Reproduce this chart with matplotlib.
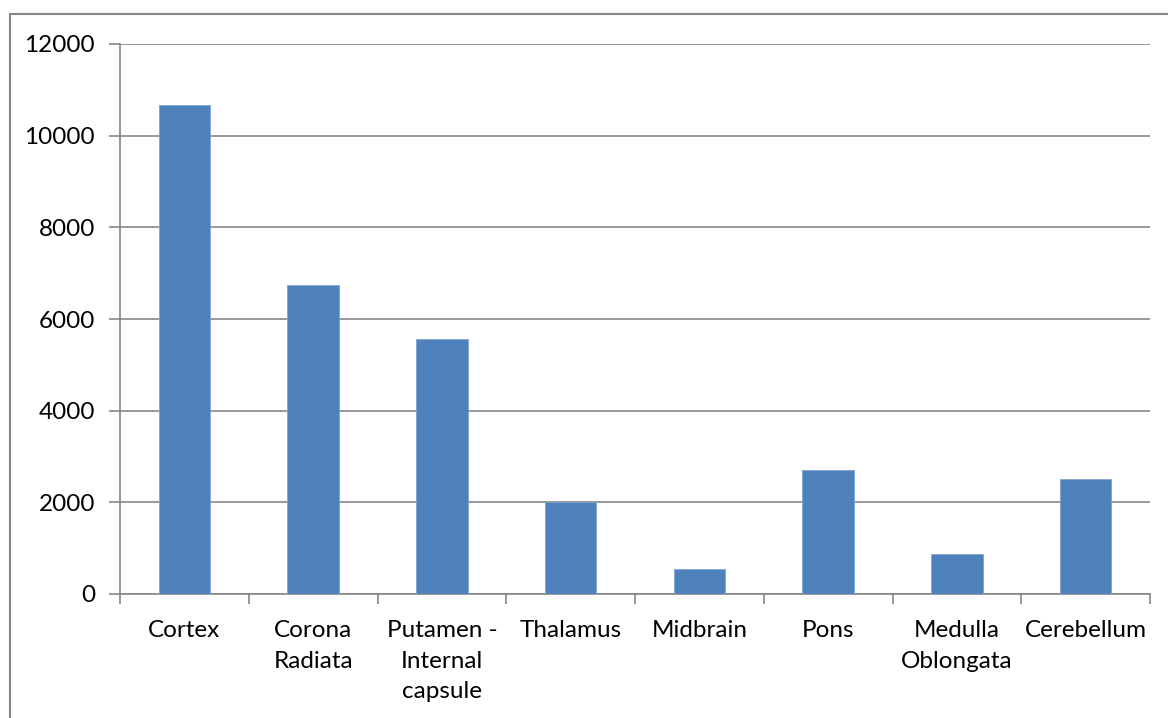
import matplotlib.pyplot as plt
from matplotlib.patches import Rectangle

regions = ["Cortex", "Corona\nRadiata", "Putamen -\nInternal\ncapsule", "Thalamus",
           "Midbrain", "Pons", "Medulla\nOblongata", "Cerebellum"]
counts = [10680, 6750, 5560, 2000, 540, 2710, 870, 2520]
yticks = [0, 2000, 4000, 6000, 8000, 10000, 12000]

plt.rcParams['font.family'] = ['Lato', 'DejaVu Sans']
grey = '#868686'

fig = plt.figure(figsize=(11.68, 7.18), dpi=100)
# chart frame
fig.patches.append(Rectangle((10 / 1168, -0.05), 1.2, 1 - 14 / 718 + 0.05,
                             transform=fig.transFigure, fill=False,
                             edgecolor=grey, linewidth=1.5))

ax = fig.add_axes([120 / 1168, 1 - 594 / 718, 1030 / 1168, 550 / 718])
x = range(len(regions))
ax.bar(x, counts, width=0.4, color='#4F81BD', edgecolor='#7FA3D1', linewidth=0.6, zorder=3)

ax.set_xlim(-0.5, len(regions) - 0.5)
ax.set_ylim(0, 12000)
ax.set_yticks(yticks)
ax.set_yticklabels([str(v) for v in yticks], fontsize=17.5)
ax.yaxis.grid(True, color=grey, linewidth=1.2, zorder=0)

ax.set_xticks(list(x))
ax.set_xticklabels(regions, fontsize=17.5, linespacing=1.55, va='top')
ax.set_xticks([i - 0.5 for i in range(len(regions) + 1)], minor=True)
ax.tick_params(axis='x', which='major', length=0, pad=19)
ax.tick_params(axis='x', which='minor', length=7, color=grey, width=1.2)
ax.tick_params(axis='y', length=8, color=grey, width=1.2, pad=10)

for side in ['top', 'right']:
    ax.spines[side].set_visible(False)
for side in ['left', 'bottom']:
    ax.spines[side].set_color(grey)
    ax.spines[side].set_linewidth(1.2)

fig.savefig('out.png', dpi=100)
